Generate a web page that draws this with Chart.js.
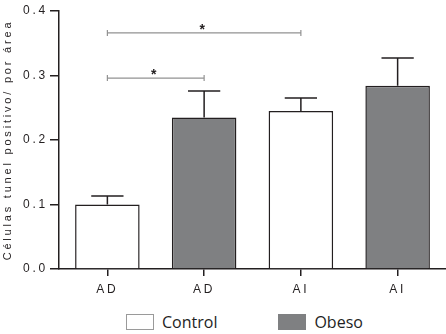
<!DOCTYPE html>
<html lang="es">
<head>
  <meta charset="UTF-8" />
  <title>Células tunel positivo</title>
  <script src="https://cdn.jsdelivr.net/npm/chart.js"></script>
  <style>
    body { margin: 0; background: #fff; }
    .wrap { position: relative; width: 446px; height: 305px; }
    .legend { display: flex; align-items: center; height: 29px; padding-left: 126px; font-family: "Open Sans", sans-serif; font-size: 16px; color: #1e1e24; }
    .legend .item { display: flex; align-items: center; margin-right: 61px; margin-top: 5px; }
    .legend .box { width: 28px; height: 16px; box-sizing: border-box; margin-right: 8px; }
    .legend span { line-height: 16px; }
  </style>
</head>
<body>
  <div class="wrap"><canvas id="chart"></canvas></div>
  <div class="legend" id="legend"></div>

  <script>
    // datos
    const tickLabels = ['AD', 'AD', 'AI', 'AI'];
    const seriesNames = ['Control', 'Obeso'];
    const controlMean = [0.100, null, 0.245, null];
    const controlErr  = [0.013, null, 0.020, null];
    const obesoMean   = [null, 0.235, null, 0.284];
    const obesoErr    = [null, 0.041, null, 0.043];

    // comparaciones significativas (barra inicial, barra final, altura)
    const sigFrom  = [0, 0];
    const sigTo    = [1, 2];
    const sigLevel = [0.296, 0.366];
    const sigMark  = ['*', '*'];

    const ink = '#231f20';
    const grey = '#7f8082';
    Chart.defaults.font.family = '"Liberation Sans", Arial, sans-serif';

    // barras de error, corchetes y espaciado de letras de los ejes
    const extras = {
      id: 'extras',
      beforeDraw(chart) { chart.ctx.letterSpacing = '2.8px'; },
      afterDatasetsDraw(chart) {
        const ctx = chart.ctx;
        const yScale = chart.scales.y;
        const xScale = chart.scales.x;
        const errs = [controlErr, obesoErr];
        ctx.save();
        ctx.letterSpacing = '0px';
        ctx.strokeStyle = ink;
        ctx.lineWidth = 1.5;
        chart.data.datasets.forEach((ds, d) => {
          chart.getDatasetMeta(d).data.forEach((bar, i) => {
            if (ds.data[i] == null) return;
            const top = yScale.getPixelForValue(ds.data[i] + errs[d][i]);
            const half = bar.width / 4;
            ctx.beginPath();
            ctx.moveTo(bar.x, bar.y);
            ctx.lineTo(bar.x, top);
            ctx.moveTo(bar.x - half, top);
            ctx.lineTo(bar.x + half, top);
            ctx.stroke();
          });
        });

        ctx.strokeStyle = '#929292';
        ctx.fillStyle = ink;
        ctx.lineWidth = 1.2;
        ctx.font = 'bold 14px "Liberation Sans", Arial, sans-serif';
        ctx.textAlign = 'center';
        ctx.textBaseline = 'alphabetic';
        sigLevel.forEach((lvl, k) => {
          const x0 = xScale.getPixelForValue(sigFrom[k]);
          const x1 = xScale.getPixelForValue(sigTo[k]);
          const y = yScale.getPixelForValue(lvl);
          ctx.beginPath();
          ctx.moveTo(x0, y); ctx.lineTo(x1, y);
          ctx.moveTo(x0, y - 3); ctx.lineTo(x0, y + 3);
          ctx.moveTo(x1, y - 3); ctx.lineTo(x1, y + 3);
          ctx.stroke();
          ctx.fillText(sigMark[k], (x0 + x1) / 2 - 2, y + 1);
        });
        ctx.beginPath();
        ctx.restore();
      }
    };

    const ctx = document.getElementById('chart').getContext('2d');
    const chart = new Chart(ctx, {
      type: 'bar',
      data: {
        labels: tickLabels,
        datasets: [
          { label: seriesNames[0], data: controlMean, backgroundColor: '#ffffff', borderColor: ink, borderWidth: 1.5 },
          { label: seriesNames[1], data: obesoMean, backgroundColor: grey, borderColor: ink, borderWidth: 1.5 }
        ]
      },
      options: {
        responsive: true,
        maintainAspectRatio: false,
        animation: false,
        skipNull: true,
        categoryPercentage: 1,
        barPercentage: 0.667,
        layout: { padding: { top: 11, right: 0, left: 0, bottom: 0 } },
        plugins: { legend: { display: false }, tooltip: { enabled: false } },
        scales: {
          x: {
            ticks: { color: ink, font: { size: 12 }, padding: 6 },
            grid: { drawOnChartArea: false, offset: false, tickLength: 7, color: ink, lineWidth: 1.5 },
            border: { color: ink, width: 1.5 },
            afterFit: s => { s.height = 36; }
          },
          y: {
            min: 0,
            max: 0.4,
            ticks: { stepSize: 0.1, color: ink, font: { size: 12 }, padding: 2, callback: v => v.toFixed(1) },
            grid: { drawOnChartArea: false, tickLength: 9, color: ink, lineWidth: 1.5 },
            border: { color: ink, width: 1.5 },
            title: { display: true, text: 'Células tunel positivo/ por área', color: ink, font: { size: 11 }, padding: { top: 1, bottom: 0 } },
            afterFit: s => { s.width = 59; }
          }
        }
      },
      plugins: [extras]
    });

    // leyenda en HTML
    const legendEl = document.getElementById('legend');
    chart.data.datasets.forEach(ds => {
      const item = document.createElement('div');
      item.className = 'item';
      const box = document.createElement('div');
      box.className = 'box';
      box.style.background = ds.backgroundColor;
      box.style.border = ds.backgroundColor === '#ffffff' ? '1px solid #9a9a9a' : 'none';
      const txt = document.createElement('span');
      txt.textContent = ds.label;
      item.appendChild(box);
      item.appendChild(txt);
      legendEl.appendChild(item);
    });
  </script>
</body>
</html>
